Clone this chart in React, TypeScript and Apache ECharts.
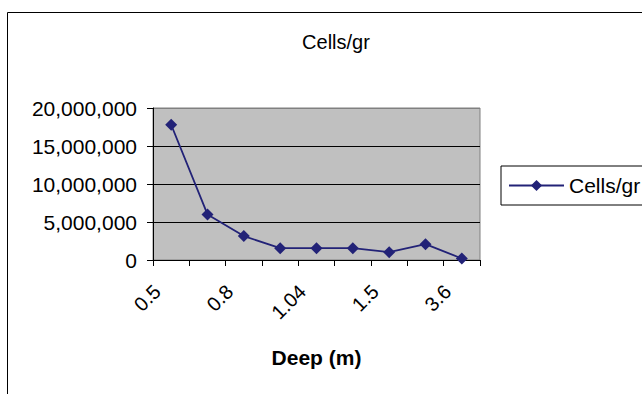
import React, { useEffect, useRef } from "react";
import * as echarts from "echarts";

const depths: string[] = ["0.5", "0.65", "0.8", "0.9", "1.04", "1.2", "1.5", "2.5", "3.6"];
const cellsPerGram: number[] = [17800000, 6000000, 3150000, 1550000, 1550000, 1550000, 1030000, 2080000, 200000];
const seriesName = "Cells/gr";
const xAxisTitle = "Deep (m)";

const FONT = "'Liberation Sans', Arial, sans-serif";
const NAVY = "#222277";

export default function App() {
  const ref = useRef<HTMLDivElement>(null);

  useEffect(() => {
    if (!ref.current) return;
    const chart = echarts.init(ref.current, undefined, { renderer: "svg" });
    chart.setOption({
      animation: false,
      backgroundColor: "#ffffff",
      textStyle: { fontFamily: FONT, color: "#000" },
      title: {
        text: seriesName,
        left: 331,
        top: 27,
        textAlign: "center",
        textStyle: { fontFamily: FONT, fontSize: 20, fontWeight: "normal", color: "#000" },
      },
      graphic: [
        {
          type: "rect",
          shape: { x: 7.5, y: 12.5, width: 700, height: 420 },
          style: { fill: "none", stroke: "#000", lineWidth: 1 },
          silent: true,
        },
      ],
      legend: {
        left: 501,
        top: 166,
        orient: "vertical",
        padding: [9, 12, 9, 7],
        borderColor: "#000",
        borderWidth: 1,
        itemWidth: 55,
        itemHeight: 14,
        itemGap: 0,
        textStyle: { fontFamily: FONT, fontSize: 21, color: "#000" },
        data: [seriesName],
      },
      grid: {
        left: 153,
        right: 162,
        top: 108,
        bottom: 134,
        show: true,
        backgroundColor: "#c0c0c0",
        borderColor: "#808080",
        borderWidth: 1,
      },
      xAxis: {
        type: "category",
        data: depths,
        boundaryGap: true,
        name: xAxisTitle,
        nameLocation: "middle",
        nameGap: 87,
        nameTextStyle: { fontFamily: FONT, fontSize: 21, fontWeight: "bold", color: "#000" },
        axisLine: { lineStyle: { color: "#000", width: 1 } },
        axisTick: { show: true, interval: 0, length: 6, lineStyle: { color: "#000" } },
        axisLabel: {
          interval: 1,
          rotate: 45,
          margin: 14,
          padding: [0, 20, 0, 0],
          fontFamily: FONT,
          fontSize: 20,
          color: "#000",
        },
        splitLine: { show: false },
      },
      yAxis: {
        type: "value",
        min: 0,
        max: 20000000,
        interval: 5000000,
        axisLine: { show: true, lineStyle: { color: "#000", width: 1 } },
        axisTick: { show: true, length: 6, lineStyle: { color: "#000" } },
        axisLabel: {
          margin: 16,
          fontFamily: FONT,
          fontSize: 21,
          color: "#000",
          formatter: (v: number) => v.toLocaleString("en-US"),
        },
        splitLine: {
          show: true,
          lineStyle: { color: ["#000", "#000", "#000", "#000", "#808080"], width: 1 },
        },
      },
      series: [
        {
          name: seriesName,
          type: "line",
          data: cellsPerGram,
          symbol: "diamond",
          symbolSize: 12,
          lineStyle: { color: NAVY, width: 1.8 },
          itemStyle: { color: NAVY },
        },
      ],
    });
    return () => chart.dispose();
  }, []);

  return (
    <div
      ref={ref}
      style={{ position: "fixed", left: 0, top: 0, width: 642, height: 394, background: "#fff" }}
    />
  );
}
